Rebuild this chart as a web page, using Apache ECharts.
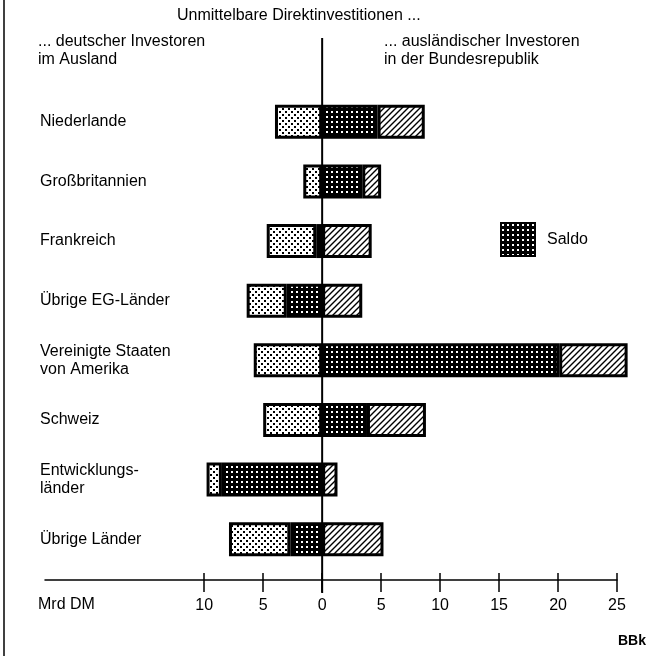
<!DOCTYPE html>
<html>
<head>
<meta charset="utf-8">
<script src="https://cdn.jsdelivr.net/npm/echarts@6/dist/echarts.min.js"></script>
<style>
  html, body {margin: 0; padding: 0; background: #fff;}
  #chart {width: 651px; height: 656px;}
</style>
</head>
<body>
<div id="chart"></div>
<script>
// Unmittelbare Direktinvestitionen (Mrd DM)
const categories = ['Niederlande', 'Großbritannien', 'Frankreich', 'Übrige EG-Länder',
  'Vereinigte Staaten\nvon Amerika', 'Schweiz', 'Entwicklungs-\nländer', 'Übrige Länder']
const deutscheImAusland = [4.0, 1.6, 4.7, 6.4, 5.8, 5.0, 9.8, 7.9]
const auslaendischeInBRD = [8.7, 5.0, 4.2, 3.4, 25.9, 8.8, 1.3, 5.2]
const saldo = [4.7, 3.4, -0.5, -3.0, 20.1, 3.8, -8.5, -2.7]
const tickValues = [-10, -5, 0, 5, 10, 15, 20, 25]

const FONT = '"Liberation Sans", Arial, sans-serif'
const FS = 16

// stacked pieces: saldo sits next to zero, the rest fills out to the totals
const lightPart = deutscheImAusland.map((g, i) => -(g - Math.max(-saldo[i], 0)))
const hatchPart = auslaendischeInBRD.map((f, i) => f - Math.max(saldo[i], 0))

const makePattern = (size, draw) => {
  const c = document.createElement('canvas')
  c.width = size
  c.height = size
  draw(c.getContext('2d'))
  return {image: c, repeat: 'repeat'}
}

const lightDots = makePattern(6, ctx => {
  ctx.fillStyle = '#fff'
  ctx.fillRect(0, 0, 6, 6)
  ctx.fillStyle = '#000'
  ctx.fillRect(0, 0, 2, 2)
  ctx.fillRect(3, 3, 2, 2)
})

const darkDots = makePattern(5, ctx => {
  ctx.fillStyle = '#000'
  ctx.fillRect(0, 0, 5, 5)
  ctx.fillStyle = '#fff'
  ctx.fillRect(1, 1, 2, 2)
})

const hatch = makePattern(6, ctx => {
  ctx.fillStyle = '#fff'
  ctx.fillRect(0, 0, 6, 6)
  ctx.strokeStyle = '#000'
  ctx.lineWidth = 1.4
  ctx.beginPath()
  ctx.moveTo(-1, 7); ctx.lineTo(7, -1)
  ctx.moveTo(-4, 4); ctx.lineTo(4, -4)
  ctx.moveTo(2, 10); ctx.lineTo(10, 2)
  ctx.stroke()
})

const barStyle = fill => ({color: fill, borderColor: '#000', borderWidth: 3})

const option = {
  animation: false,
  backgroundColor: '#fff',
  textStyle: {fontFamily: FONT, color: '#000'},
  grid: {left: 45, right: 34, top: 92, bottom: 87},
  legend: {
    data: ['Saldo'],
    icon: 'rect',
    left: 500,
    top: 222,
    padding: 0,
    itemWidth: 34,
    itemHeight: 33,
    selectedMode: false,
    textStyle: {fontSize: FS, color: '#000', fontFamily: FONT, padding: [0, 0, 0, 7]}
  },
  xAxis: [
    {
      type: 'value',
      position: 'bottom',
      min: -23.5,
      max: 25,
      offset: 11,
      splitLine: {show: false},
      axisLine: {show: true, lineStyle: {color: '#000', width: 1.5}},
      axisTick: {show: true, length: 12, customValues: tickValues, lineStyle: {color: '#000', width: 1.5}},
      axisLabel: {
        customValues: tickValues,
        margin: 18,
        fontSize: FS,
        color: '#000',
        fontFamily: FONT,
        formatter: v => String(Math.abs(v))
      }
    },
    {
      type: 'value',
      position: 'bottom',
      min: -23.5,
      max: 25,
      offset: 11,
      splitLine: {show: false},
      axisLine: {show: false},
      axisTick: {show: true, inside: true, length: 7, customValues: tickValues, lineStyle: {color: '#000', width: 1.5}},
      axisLabel: {show: false}
    }
  ],
  yAxis: {
    type: 'category',
    inverse: true,
    data: categories,
    axisLine: {show: false},
    axisTick: {show: false},
    axisLabel: {
      align: 'left',
      margin: 5,
      fontSize: FS,
      lineHeight: 18,
      color: '#000',
      fontFamily: FONT
    }
  },
  series: [
    {
      name: 'Saldo',
      type: 'bar',
      stack: 'inv',
      barWidth: 34,
      clip: false,
      itemStyle: barStyle(darkDots),
      data: saldo
    },
    {
      name: 'deutsche Investoren im Ausland',
      type: 'bar',
      stack: 'inv',
      barWidth: 34,
      clip: false,
      itemStyle: barStyle(lightDots),
      data: lightPart
    },
    {
      name: 'ausländische Investoren in der Bundesrepublik',
      type: 'bar',
      stack: 'inv',
      barWidth: 34,
      clip: false,
      itemStyle: barStyle(hatch),
      data: hatchPart
    }
  ]
}

const chart = echarts.init(document.getElementById('chart'))
chart.setOption(option)

const zeroX = chart.convertToPixel({xAxisIndex: 0}, 0)
chart.setOption({
  graphic: [
    {type: 'line', z: 100, shape: {x1: zeroX, y1: 38, x2: zeroX, y2: 593}, style: {stroke: '#000', lineWidth: 2}},
    {type: 'line', shape: {x1: 4, y1: 0, x2: 4, y2: 656}, style: {stroke: '#000', lineWidth: 1.5}},
    {type: 'text', left: 177, top: 8, style: {text: 'Unmittelbare Direktinvestitionen ...', font: FS + 'px ' + FONT, fill: '#000'}},
    {type: 'text', left: 38, top: 33, style: {text: '... deutscher Investoren\nim Ausland', font: FS + 'px ' + FONT, lineHeight: 18, fill: '#000'}},
    {type: 'text', left: 384, top: 33, style: {text: '... ausländischer Investoren\nin der Bundesrepublik', font: FS + 'px ' + FONT, lineHeight: 18, fill: '#000'}},
    {type: 'text', left: 38, top: 597, style: {text: 'Mrd DM', font: FS + 'px ' + FONT, fill: '#000'}},
    {type: 'text', right: 5, top: 634, style: {text: 'BBk', font: 'bold 14px ' + FONT, fill: '#000'}}
  ]
})
</script>
</body>
</html>
